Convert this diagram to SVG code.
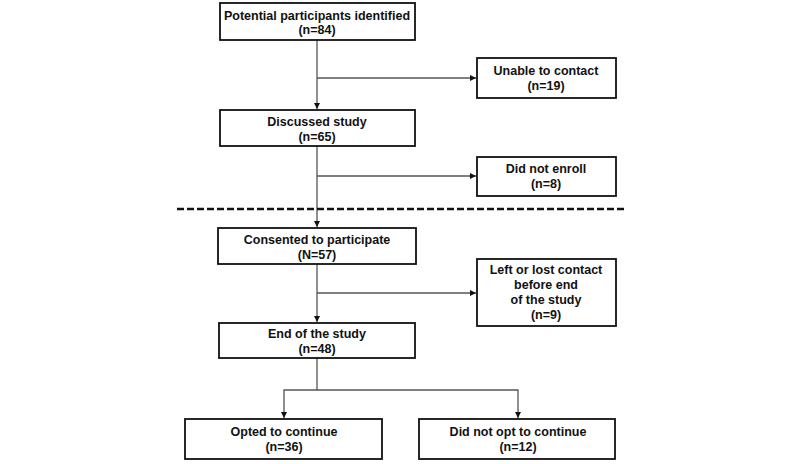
<svg xmlns="http://www.w3.org/2000/svg" width="800" height="464" viewBox="0 0 800 464">
<defs>
<marker id="ah" viewBox="0 0 8 8" refX="8" refY="4" markerWidth="6" markerHeight="6" markerUnits="userSpaceOnUse" orient="auto">
<path d="M0,0 L8,4 L0,8 Z" fill="#111"/>
</marker>
<style>
.box{fill:#fff;stroke:#111;stroke-width:1.8}
.t{font-family:"Liberation Sans",Arial,sans-serif;font-weight:bold;font-size:12.5px;fill:#111;text-anchor:middle}
.ln{fill:none;stroke:#555;stroke-width:1.3}
.dash{fill:none;stroke:#111;stroke-width:2.5;stroke-dasharray:7 3}
</style>
</defs>
<rect width="800" height="464" fill="#fff"/>
<g id="connectors">
<line class="ln" x1="317" y1="40" x2="317" y2="109" marker-end="url(#ah)"/>
<line class="ln" x1="317" y1="78" x2="476" y2="78" marker-end="url(#ah)"/>
<line class="ln" x1="317" y1="146" x2="317" y2="227" marker-end="url(#ah)"/>
<line class="ln" x1="317" y1="176" x2="476" y2="176" marker-end="url(#ah)"/>
<line class="ln" x1="317" y1="264" x2="317" y2="322" marker-end="url(#ah)"/>
<line class="ln" x1="317" y1="293" x2="476" y2="293" marker-end="url(#ah)"/>
<polyline class="ln" points="317,358 317,390 284,390 284,418" marker-end="url(#ah)"/>
<polyline class="ln" points="317,390 518,390 518,418" marker-end="url(#ah)"/>
<line class="dash" x1="177" y1="209" x2="624" y2="209"/>
</g>
<g id="n1"><rect class="box" x="220" y="3" width="195" height="37"/><text class="t" x="317" y="20">Potential participants identified</text><text class="t" x="317" y="34">(n=84)</text></g>
<g id="n2"><rect class="box" x="477" y="58" width="139" height="40"/><text class="t" x="546" y="75">Unable to contact</text><text class="t" x="546" y="90">(n=19)</text></g>
<g id="n3"><rect class="box" x="220" y="110" width="195" height="36"/><text class="t" x="317" y="126">Discussed study</text><text class="t" x="317" y="141">(n=65)</text></g>
<g id="n4"><rect class="box" x="477" y="157" width="139" height="39"/><text class="t" x="546" y="173">Did not enroll</text><text class="t" x="546" y="188">(n=8)</text></g>
<g id="n5"><rect class="box" x="218" y="228" width="198" height="36"/><text class="t" x="317" y="244">Consented to participate</text><text class="t" x="317" y="259">(N=57)</text></g>
<g id="n6"><rect class="box" x="477" y="259" width="139" height="67"/><text class="t" x="546" y="274">Left or lost contact</text><text class="t" x="546" y="289">before end</text><text class="t" x="546" y="304">of the study</text><text class="t" x="546" y="319">(n=9)</text></g>
<g id="n7"><rect class="box" x="219" y="323" width="196" height="35"/><text class="t" x="317" y="338">End of the study</text><text class="t" x="317" y="353">(n=48)</text></g>
<g id="n8"><rect class="box" x="185" y="419" width="197" height="40"/><text class="t" x="284" y="436">Opted to continue</text><text class="t" x="284" y="451">(n=36)</text></g>
<g id="n9"><rect class="box" x="419" y="419" width="196" height="40"/><text class="t" x="518" y="436">Did not opt to continue</text><text class="t" x="518" y="451">(n=12)</text></g>
</svg>
